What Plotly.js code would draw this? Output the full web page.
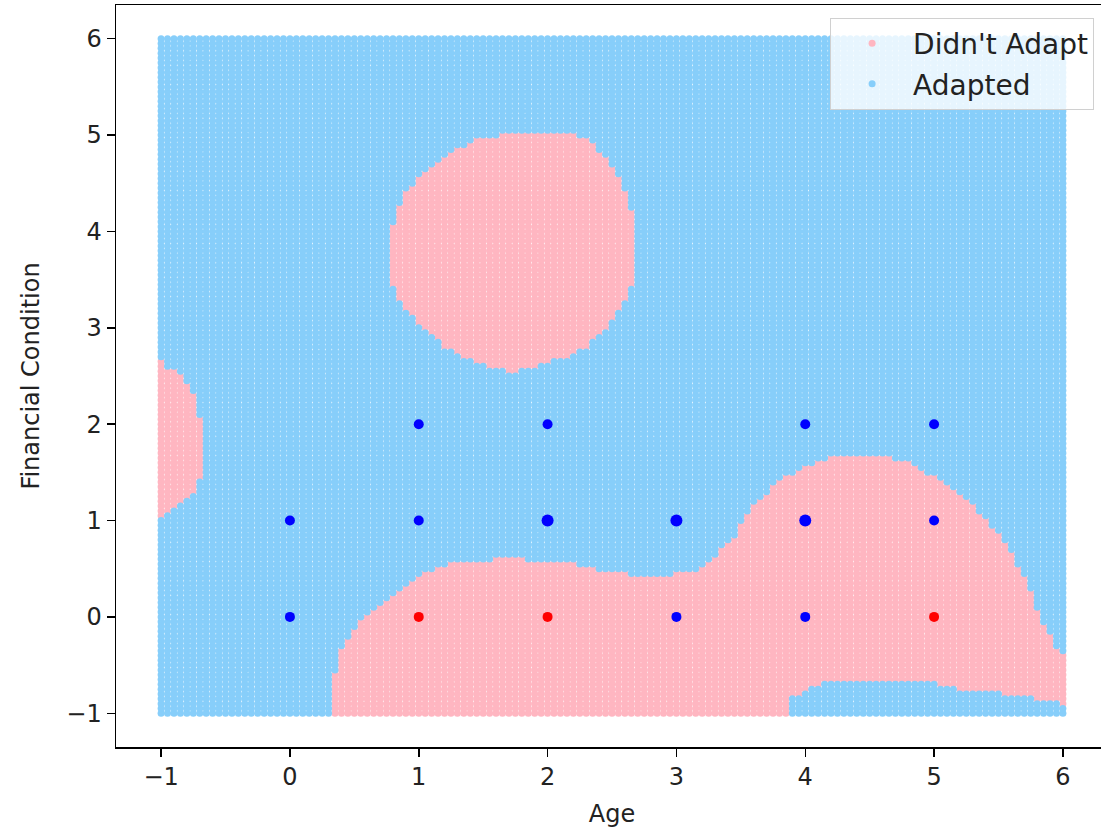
<!DOCTYPE html>
<html>
<head>
<meta charset="utf-8">
<script src="https://cdn.plot.ly/plotly-3.0.1.min.js"></script>
<style>
  html, body { margin: 0; padding: 0; overflow: hidden; background: #fff; }
</style>
</head>
<body>
<div id="chart"></div>
<script>
// Mesh on which the classifier was evaluated
const meshStart = -1;
const meshStop = 6;
const meshStep = 0.05;

// Outlines of the "Didn't Adapt" decision regions, as [age, financial condition] vertices
const upperBlob = [
  [1.735, 5.03], [2.20, 5.01], [2.309, 4.96], [2.464, 4.75], [2.565, 4.54],
  [2.642, 4.26], [2.690, 4.05], [2.700, 3.75], [2.660, 3.45], [2.565, 3.19],
  [2.433, 2.95], [2.278, 2.77], [2.099, 2.67], [1.890, 2.59], [1.688, 2.53],
  [1.657, 2.56], [1.424, 2.64], [1.222, 2.77], [1.067, 2.95], [0.935, 3.12],
  [0.835, 3.32], [0.765, 3.57], [0.757, 3.85], [0.780, 4.02], [0.858, 4.33],
  [0.959, 4.51], [1.192, 4.78], [1.455, 4.96]
];

const leftBlob = [
  [-1.10, 2.70], [-1.00, 2.70], [-0.95, 2.60], [-0.849, 2.53], [-0.771, 2.39],
  [-0.717, 2.22], [-0.694, 2.01], [-0.694, 1.42], [-0.748, 1.28], [-0.825, 1.18],
  [-0.903, 1.11], [-1.00, 1.00], [-1.10, 1.00]
];

const lowerBand = [
  [0.315, -1.10], [0.315, -1.00], [0.330, -0.69], [0.393, -0.35], [0.470, -0.17],
  [0.548, -0.04], [0.680, 0.12], [0.835, 0.27], [0.959, 0.41], [1.114, 0.50],
  [1.269, 0.57], [1.579, 0.59], [1.610, 0.64], [1.788, 0.64], [1.812, 0.57],
  [2.231, 0.555], [2.278, 0.51], [2.619, 0.48], [2.642, 0.43], [2.976, 0.43],
  [3.030, 0.48], [3.185, 0.50], [3.317, 0.66], [3.441, 0.83], [3.627, 1.21],
  [3.829, 1.45], [3.984, 1.55], [4.139, 1.63], [4.349, 1.70], [4.504, 1.68],
  [4.760, 1.63], [4.915, 1.52], [5.071, 1.42], [5.280, 1.18], [5.435, 0.97],
  [5.590, 0.69], [5.691, 0.45], [5.769, 0.20], [5.846, -0.07], [5.955, -0.32],
  [6.032, -0.42], [6.20, -0.42], [6.20, -0.94], [6.03, -0.94], [5.955, -0.90],
  [5.769, -0.87], [5.746, -0.84], [5.513, -0.80], [5.490, -0.77], [5.048, -0.74],
  [5.024, -0.66], [4.194, -0.66], [4.015, -0.77], [3.884, -0.84], [3.860, -0.94],
  [3.860, -1.10]
];

// Training samples: age, financial condition, outcome (1 = adapted), samples at that spot
const sampleAge     = [0, 0, 1, 1, 1, 2, 2, 2, 3, 3, 4, 4, 4, 5, 5, 5];
const sampleFinance = [0, 1, 0, 1, 2, 0, 1, 2, 0, 1, 0, 1, 2, 0, 1, 2];
const sampleAdapted = [1, 1, 0, 1, 1, 0, 1, 1, 1, 1, 1, 1, 1, 0, 1, 1];
const sampleCount   = [1, 1, 1, 1, 1, 1, 3, 1, 1, 3, 1, 3, 1, 1, 1, 1];

// Axis ticks
const tickValues = [-1, 0, 1, 2, 3, 4, 5, 6];
const tickLabels = ['\u22121', '0', '1', '2', '3', '4', '5', '6'];

const regionNames = ["Didn't Adapt", 'Adapted'];
const regionColors = ['#ffb6c1', '#87cefa'];

function insidePolygon(px, py, poly) {
  let inside = false;
  for (let i = 0, j = poly.length - 1; i < poly.length; j = i++) {
    const xi = poly[i][0], yi = poly[i][1];
    const xj = poly[j][0], yj = poly[j][1];
    if ((yi > py) !== (yj > py) &&
        px < (xj - xi) * (py - yi) / (yj - yi) + xi) {
      inside = !inside;
    }
  }
  return inside;
}

// Classify every mesh node by the region outlines
const meshCount = Math.round((meshStop - meshStart) / meshStep) + 1;
const pinkX = [], pinkY = [], blueX = [], blueY = [];
for (let i = 0; i < meshCount; i++) {
  const gx = meshStart + i * meshStep;
  for (let j = 0; j < meshCount; j++) {
    const gy = meshStart + j * meshStep;
    const notAdapted = insidePolygon(gx, gy, upperBlob) ||
                       insidePolygon(gx, gy, leftBlob) ||
                       insidePolygon(gx, gy, lowerBand);
    if (notAdapted) { pinkX.push(gx); pinkY.push(gy); }
    else { blueX.push(gx); blueY.push(gy); }
  }
}

const redAge = [], redFin = [], redSize = [];
const bluAge = [], bluFin = [], bluSize = [];
for (let k = 0; k < sampleAge.length; k++) {
  const size = sampleCount[k] > 1 ? 12 : 10;
  if (sampleAdapted[k]) { bluAge.push(sampleAge[k]); bluFin.push(sampleFinance[k]); bluSize.push(size); }
  else { redAge.push(sampleAge[k]); redFin.push(sampleFinance[k]); redSize.push(size); }
}

const traces = [
  {
    type: 'scatter', mode: 'markers', name: regionNames[0], legendgroup: 'notAdapted',
    x: pinkX, y: pinkY,
    marker: { color: regionColors[0], size: 7, opacity: 1, line: { width: 0 } },
    hoverinfo: 'skip'
  },
  {
    type: 'scatter', mode: 'markers', name: regionNames[1], legendgroup: 'adapted',
    x: blueX, y: blueY,
    marker: { color: regionColors[1], size: 7, opacity: 1, line: { width: 0 } },
    hoverinfo: 'skip'
  },
  {
    type: 'scatter', mode: 'markers', showlegend: false,
    x: redAge, y: redFin,
    marker: { color: '#ff0000', size: redSize, opacity: 1, line: { width: 0 } }
  },
  {
    type: 'scatter', mode: 'markers', showlegend: false,
    x: bluAge, y: bluFin,
    marker: { color: '#0000ff', size: bluSize, opacity: 1, line: { width: 0 } }
  }
];

const axisCommon = {
  tickmode: 'array',
  tickvals: tickValues,
  ticktext: tickLabels,
  ticks: 'outside',
  ticklen: 8,
  tickwidth: 1.5,
  tickcolor: '#000',
  showline: true,
  mirror: true,
  linecolor: '#000',
  linewidth: 1.5,
  showgrid: false,
  zeroline: false,
  tickfont: { family: 'DejaVu Sans', size: 24, color: '#222' },
  automargin: false
};

const layout = {
  width: 1110,
  height: 832,
  margin: { l: 116, r: 2, t: 5, b: 85 },
  paper_bgcolor: '#fff',
  plot_bgcolor: '#fff',
  font: { family: 'DejaVu Sans', color: '#222' },
  xaxis: Object.assign({}, axisCommon, {
    range: [-1.35, 6.35],
    title: { text: 'Age', font: { family: 'DejaVu Sans', size: 24, color: '#222' }, standoff: 15 }
  }),
  yaxis: Object.assign({}, axisCommon, {
    range: [-1.35, 6.35],
    title: { text: 'Financial Condition', font: { family: 'DejaVu Sans', size: 24, color: '#222' }, standoff: 20 }
  }),
  legend: {
    x: 0.986, xanchor: 'right',
    y: 0.983, yanchor: 'top',
    bgcolor: 'rgba(255,255,255,0.8)',
    bordercolor: '#d0d0d0',
    borderwidth: 1,
    itemwidth: 72,
    traceorder: 'grouped',
    tracegroupgap: 1,
    font: { family: 'DejaVu Sans', size: 28, color: '#222' }
  },
  showlegend: true
};

Plotly.newPlot('chart', traces, layout, { displayModeBar: false, staticPlot: true });
</script>
</body>
</html>
